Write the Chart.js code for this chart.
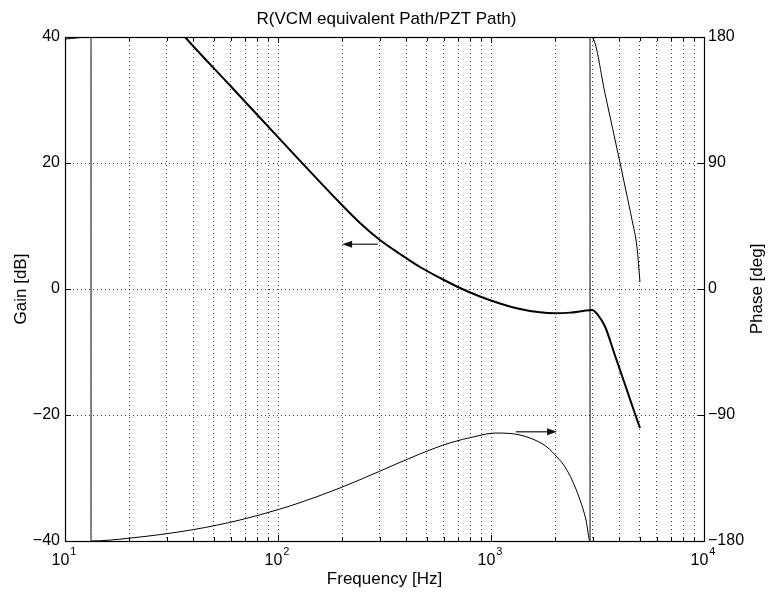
<!DOCTYPE html>
<html>
<head>
<meta charset="utf-8">
<title>R(VCM equivalent Path/PZT Path)</title>
<script src="https://cdn.jsdelivr.net/npm/chart.js@4.4.1/dist/chart.umd.min.js"></script>
<style>
  html, body { margin: 0; padding: 0; background: #fff; }
  #wrap { width: 773px; height: 595px; }
</style>
</head>
<body>
<div id="wrap"><canvas id="bodeId" width="773" height="595"></canvas></div>
<script>
// ---- data ----
const gainFreq = [10, 20, 30, 36.6, 59.6, 100, 195.5, 242.7, 301, 374, 464, 577, 715, 888, 1102, 1368, 1698, 1997, 2349, 2704, 2980, 3179, 3430, 3821, 4257, 4642, 5006];
const gainDb   = [61, 50, 43.5, 40, 32.3, 24.1, 13.65, 10.48, 7.78, 5.56, 3.49, 1.75, 0.16, -1.19, -2.30, -3.17, -3.70, -3.84, -3.75, -3.49, -3.33, -4.13, -5.95, -10.56, -15.16, -18.89, -22.06];

const phaseFreq = [10, 13.25, 13.25, 20, 39.9, 66.3, 100, 126.9, 195.5, 301, 464, 642, 841, 1044, 1296, 1609, 1832, 2041, 2226, 2401, 2618, 2793, 2917,
                   2917, 3013, 3430, 4036, 4303, 4592, 4845, 5006];
const phaseDeg  = [178.5, 180, -180, -178.0, -171.9, -165.0, -157.6, -152.6, -142.1, -130.1, -117.8, -109.9, -105.4, -102.9, -103.6, -107.9, -112.9, -120, -127.1, -136.4, -150.7, -165, -180,
                   180, 179, 139.6, 90, 70, 49.3, 30, 5];

const freqTicks  = [10, 20, 30, 40, 50, 60, 70, 80, 90, 100, 200, 300, 400, 500, 600, 700, 800, 900,
                    1000, 2000, 3000, 4000, 5000, 6000, 7000, 8000, 9000, 10000];
const decades    = [1, 2, 3, 4];
const gainTicks  = [-40, -20, 0, 20, 40];
const phaseTicks = [-180, -90, 0, 90, 180];

// arrows pointing each curve at its axis: [freq, value]
const gainArrow  = { from: [294, 7.1],    to: [200, 7.1],    axis: 'y'  };
const phaseArrow = { from: [1309, -102],  to: [2042, -102],  axis: 'y1' };

const FONT = "'Liberation Sans', Arial, Helvetica, sans-serif";

function minusLabel(v) {
    return v < 0 ? '\u2212' + Math.abs(v) : String(v);
}

// MATLAB-like frame, inward ticks, 10^n labels, right label and arrows
const matlabAxes = {
    id: 'matlabAxes',
    afterDraw(chart) {
        const { ctx, chartArea: a, scales } = chart;
        const px = v => Math.round(v) + 0.5;
        ctx.save();

        ctx.strokeStyle = '#000';
        ctx.lineWidth = 1;
        ctx.beginPath();
        freqTicks.forEach(f => {
            const x = px(scales.x.getPixelForValue(f));
            const len = decades.includes(Math.log10(f)) ? 6 : 4;
            ctx.moveTo(x, a.bottom); ctx.lineTo(x, a.bottom - len);
            ctx.moveTo(x, a.top);    ctx.lineTo(x, a.top + len);
        });
        gainTicks.forEach(v => {
            const y = px(scales.y.getPixelForValue(v));
            ctx.moveTo(a.left, y); ctx.lineTo(a.left + 6, y);
        });
        phaseTicks.forEach(v => {
            const y = px(scales.y1.getPixelForValue(v));
            ctx.moveTo(a.right, y); ctx.lineTo(a.right - 6, y);
        });
        ctx.stroke();

        ctx.lineWidth = 1.2;
        ctx.strokeRect(px(a.left), px(a.top), Math.round(a.right - a.left), Math.round(a.bottom - a.top));

        // decade labels with superscript
        ctx.fillStyle = '#000';
        ctx.textBaseline = 'alphabetic';
        ctx.textAlign = 'left';
        decades.forEach(d => {
            const x = scales.x.getPixelForValue(Math.pow(10, d));
            ctx.font = '16px ' + FONT;
            const w1 = ctx.measureText('10').width;
            ctx.font = '11px ' + FONT;
            const w2 = ctx.measureText(String(d)).width;
            const x0 = x - (w1 + w2 + 1) / 2 - 1;
            ctx.font = '16px ' + FONT;
            ctx.fillText('10', x0, a.bottom + 24);
            ctx.font = '11px ' + FONT;
            ctx.fillText(String(d), x0 + w1 + 1, a.bottom + 14);
        });

        // right axis label, reading bottom to top like the left one
        ctx.save();
        ctx.translate(757, (a.top + a.bottom) / 2);
        ctx.rotate(-Math.PI / 2);
        ctx.font = '17px ' + FONT;
        ctx.textAlign = 'center';
        ctx.textBaseline = 'middle';
        ctx.fillText('Phase [deg]', 0, 0);
        ctx.restore();

        // arrows
        [gainArrow, phaseArrow].forEach(ar => {
            const ys = scales[ar.axis];
            const x1 = scales.x.getPixelForValue(ar.from[0]);
            const y1 = ys.getPixelForValue(ar.from[1]);
            const x2 = scales.x.getPixelForValue(ar.to[0]);
            const y2 = ys.getPixelForValue(ar.to[1]);
            const ang = Math.atan2(y2 - y1, x2 - x1);
            const hl = 10, hw = 3.5;
            const bx = x2 - hl * Math.cos(ang), by = y2 - hl * Math.sin(ang);
            ctx.strokeStyle = '#444';
            ctx.fillStyle = '#111';
            ctx.lineWidth = 1.5;
            ctx.beginPath();
            ctx.moveTo(x1, y1); ctx.lineTo(bx, by);
            ctx.stroke();
            ctx.beginPath();
            ctx.moveTo(x2, y2);
            ctx.lineTo(bx + hw * Math.sin(ang), by - hw * Math.cos(ang));
            ctx.lineTo(bx - hw * Math.sin(ang), by + hw * Math.cos(ang));
            ctx.closePath();
            ctx.fill();
        });

        ctx.restore();
    }
};

const ctx = document.getElementById('bodeId').getContext('2d');

const chart = new Chart(ctx, {
    type: 'line',
    data: {
        datasets: [
            {
                label: 'Gain',
                data: gainFreq.map((f, i) => ({ x: f, y: gainDb[i] })),
                yAxisID: 'y',
                borderColor: '#000',
                borderWidth: 2,
                pointRadius: 0,
                cubicInterpolationMode: 'monotone',
                clip: 0
            },
            {
                label: 'Phase',
                data: phaseFreq.map((f, i) => ({ x: f, y: phaseDeg[i] })),
                yAxisID: 'y1',
                borderColor: '#000',
                borderWidth: 1,
                pointRadius: 0,
                cubicInterpolationMode: 'monotone',
                clip: 0
            }
        ]
    },
    options: {
        responsive: false,
        animation: false,
        layout: { padding: 0 },
        plugins: {
            legend: { display: false },
            tooltip: { enabled: false },
            title: {
                display: true,
                text: 'R(VCM equivalent Path/PZT Path)',
                color: '#000',
                font: { family: FONT, size: 17, weight: 'normal', lineHeight: 1.2 },
                padding: { top: 8.8, bottom: 7.8 }
            }
        },
        scales: {
            x: {
                type: 'logarithmic',
                min: 10,
                max: 10000,
                afterBuildTicks: s => { s.ticks = freqTicks.map(v => ({ value: v })); },
                afterFit: s => { s.height = 54; },
                ticks: { display: false },
                grid: { color: 'rgba(0,0,0,0.75)', lineWidth: 1, drawTicks: false },
                border: { display: false, dash: [1, 3] },
                title: {
                    display: true,
                    text: 'Frequency [Hz]',
                    color: '#000',
                    font: { family: FONT, size: 17, lineHeight: 1.2 },
                    padding: { top: 0, bottom: 5.8 }
                }
            },
            y: {
                position: 'left',
                min: -40,
                max: 40,
                afterBuildTicks: s => { s.ticks = gainTicks.map(v => ({ value: v })); },
                afterFit: s => { s.width = 65; },
                ticks: { color: '#000', padding: 5, font: { family: FONT, size: 16 }, callback: minusLabel },
                grid: { color: 'rgba(0,0,0,0.75)', lineWidth: 1, drawTicks: false },
                border: { display: false, dash: [1, 3] },
                title: {
                    display: true,
                    text: 'Gain [dB]',
                    color: '#000',
                    font: { family: FONT, size: 17, lineHeight: 1.2 },
                    padding: { top: 11.3, bottom: 0 }
                }
            },
            y1: {
                position: 'right',
                min: -180,
                max: 180,
                afterBuildTicks: s => { s.ticks = phaseTicks.map(v => ({ value: v })); },
                afterFit: s => { s.width = 69; },
                ticks: { color: '#000', padding: 4, font: { family: FONT, size: 16 }, callback: minusLabel },
                grid: { drawOnChartArea: false, drawTicks: false },
                border: { display: false },
                title: { display: false }
            }
        }
    },
    plugins: [matlabAxes]
});
</script>
</body>
</html>
